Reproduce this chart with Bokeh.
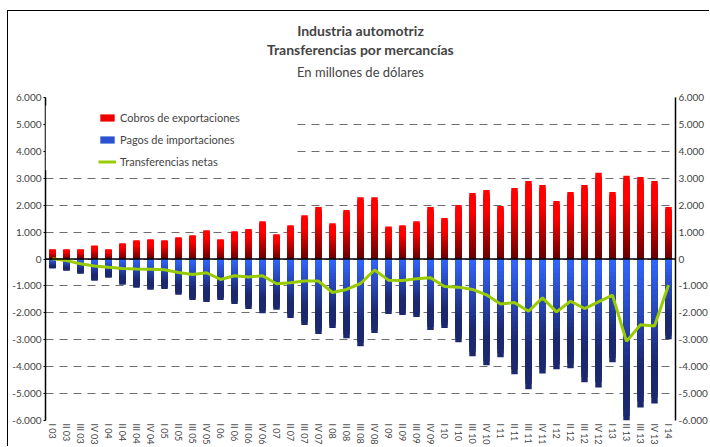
import numpy as np
from bokeh.plotting import figure
from bokeh.models import (Range1d, LinearAxis, FixedTicker, Span, Title, Legend, LegendItem,
                          ColumnDataSource, BoxAnnotation)
from bokeh.embed import file_html
from bokeh.resources import INLINE

quarters = ["I 03", "II 03", "III 03", "IV 03", "I 04", "II 04", "III 04", "IV 04",
            "I 05", "II 05", "III 05", "IV 05", "I 06", "II 06", "III 06", "IV 06",
            "I 07", "II 07", "III 07", "IV 07", "I 08", "II 08", "III 08", "IV 08",
            "I 09", "II 09", "III 09", "IV 09", "I 10", "II 10", "III 10", "IV 10",
            "I 11", "II 11", "III 11", "IV 11", "I 12", "II 12", "III 12", "IV 12",
            "I 13", "II 13", "III 13", "IV 13", "I 14"]

exports = [360, 360, 360, 500, 360, 585, 700, 735, 700, 810, 885, 1070, 735, 1035, 1110, 1407,
           920, 1258, 1630, 1930, 1330, 1820, 2290, 2290, 1210, 1258, 1407, 1930, 1520, 2005,
           2453, 2565, 1967, 2640, 2900, 2750, 2155, 2490, 2750, 3200, 2490, 3090, 3050, 2900, 1930]

imports = [-350, -435, -550, -810, -700, -960, -1070, -1145, -1110, -1330, -1520, -1595, -1520,
           -1670, -1855, -2020, -1890, -2190, -2450, -2790, -2565, -2940, -3240, -2750, -2040,
           -2080, -2155, -2640, -2565, -3090, -3610, -3950, -3650, -4280, -4840, -4250, -4100,
           -4060, -4580, -4770, -3840, -6100, -5520, -5370, -2980]

net = [10, -60, -175, -260, -310, -350, -375, -385, -400, -500, -575, -510, -760, -620, -670,
       -620, -920, -885, -820, -820, -1245, -1130, -910, -410, -785, -795, -735, -700, -1020,
       -1045, -1130, -1330, -1670, -1620, -1940, -1445, -1965, -1570, -1840, -1590, -1345,
       -3060, -2440, -2490, -970]

y_ticks = [-6000, -5000, -4000, -3000, -2000, -1000, 0, 1000, 2000, 3000, 4000, 5000, 6000]
y_labels = ["-6.000", "-5.000", "-4.000", "-3.000", "-2.000", "-1.000", "0",
            "1.000", "2.000", "3.000", "4.000", "5.000", "6.000"]

FONT = "Lato"
N = 24


def hexc(c):
    return "#%02x%02x%02x" % tuple(int(round(v)) for v in c)


def gradient_slices(values, c_far, c_near):
    """Nested bars from zero: longest (far colour) drawn first, shorter ones on top."""
    xs, tops, bottoms, colors = [], [], [], []
    for k in range(N - 1, -1, -1):
        t = (k + 0.5) / N
        s = min(1.0, t / 0.72)
        c = np.array(c_near) + (np.array(c_far) - np.array(c_near)) * s
        for cat, v in zip(quarters, values):
            end = v * (k + 1) / N
            xs.append(cat)
            tops.append(max(0, end))
            bottoms.append(min(0, end))
            colors.append(hexc(c))
    return ColumnDataSource(dict(x=xs, top=tops, bottom=bottoms, color=colors))


src_exp = gradient_slices(exports, (255, 0, 0), (100, 0, 0))
src_imp = gradient_slices(imports, (28, 40, 110), (51, 102, 255))

p = figure(width=702, height=436, x_range=quarters, y_range=Range1d(-6000, 6000),
           output_backend="svg", toolbar_location=None,
           min_border_left=37, min_border_right=0, min_border_top=86, min_border_bottom=0,
           outline_line_color=None, background_fill_color="white")
p.styles = {"border-top": "1px solid black", "border-left": "1px solid black",
            "margin-top": "10px", "margin-left": "7px"}

# titles: p.title is outermost; added titles stack outward from the frame
p.title.text = "Industria automotriz"
p.title.align = "center"
p.title.text_font = FONT
p.title.text_font_size = "14px"
p.title.text_font_style = "bold"
p.title.standoff = 0
spacer = Title(text=" ", text_font_size="1px", standoff=10)
t_sub = Title(text="En millones de dólares", align="center", text_font=FONT,
              text_font_size="13px", text_font_style="normal", standoff=9)
t2 = Title(text="Transferencias por mercancías", align="center", text_font=FONT,
           text_font_size="14px", text_font_style="bold", standoff=0)
p.add_layout(spacer, "above")
p.add_layout(t_sub, "above")
p.add_layout(t2, "above")

# grid
p.xgrid.grid_line_color = None
p.ygrid.ticker = FixedTicker(ticks=y_ticks)
p.ygrid.grid_line_color = "#6e6e6e"
p.ygrid.grid_line_dash = "8 6"
p.ygrid.grid_line_width = 1

r_exp = p.vbar(x="x", top="top", bottom="bottom", width=0.46, fill_color="color",
               line_color=None, source=src_exp)
r_imp = p.vbar(x="x", top="top", bottom="bottom", width=0.46, fill_color="color",
               line_color=None, source=src_imp)

p.add_layout(Span(location=0, dimension="width", line_color="black", line_width=1.5))

r_net = p.line(x=quarters, y=net, line_color="#99cc00", line_width=3)

# axes
overrides = {t: l for t, l in zip(y_ticks, y_labels)}
p.yaxis.ticker = FixedTicker(ticks=y_ticks)
p.yaxis.major_label_overrides = overrides
right = LinearAxis(ticker=FixedTicker(ticks=y_ticks), major_label_overrides=overrides)
p.add_layout(right, "right")
for ax in p.yaxis:
    ax.axis_line_color = "black"
    ax.axis_line_width = 1.5
    ax.major_tick_line_color = "black"
    ax.major_tick_out = 2
    ax.major_tick_in = 0
    ax.minor_tick_line_color = None
    ax.minor_tick_out = 0
    ax.major_label_text_font = FONT
    ax.major_label_text_font_size = "10px"
    ax.major_label_standoff = 2
right.major_tick_out = 0
right.major_label_standoff = 3

p.xaxis.axis_line_color = None
p.xaxis.major_tick_line_color = None
p.xaxis.major_tick_out = 0
p.xaxis.major_tick_in = 0
p.xaxis.major_label_orientation = "vertical"
p.xaxis.major_label_text_font = FONT
p.xaxis.major_label_text_font_size = "9px"
p.xaxis.major_label_standoff = 3

# white background area of the legend (hides the grid lines behind it)
p.add_layout(BoxAnnotation(left=0, right=17.6, bottom=3300, top=5700,
                           fill_color="white", fill_alpha=1.0, line_color=None))

mid = 8 * len(quarters)  # a mid-bright slice for the legend swatch
legend = Legend(items=[
    LegendItem(label="Cobros de exportaciones", renderers=[r_exp], index=mid),
    LegendItem(label="Pagos de importaciones", renderers=[r_imp], index=18 * len(quarters)),
    LegendItem(label="Transferencias netas", renderers=[r_net]),
], location=(53, 252), border_line_color=None, background_fill_color="white",
   background_fill_alpha=1.0, label_text_font=FONT, label_text_font_size="11px",
   glyph_width=18, glyph_height=9, spacing=8, padding=6, label_standoff=4,
   label_height=14)
p.add_layout(legend, "center")

open("out.html", "w").write(file_html(p, INLINE))
